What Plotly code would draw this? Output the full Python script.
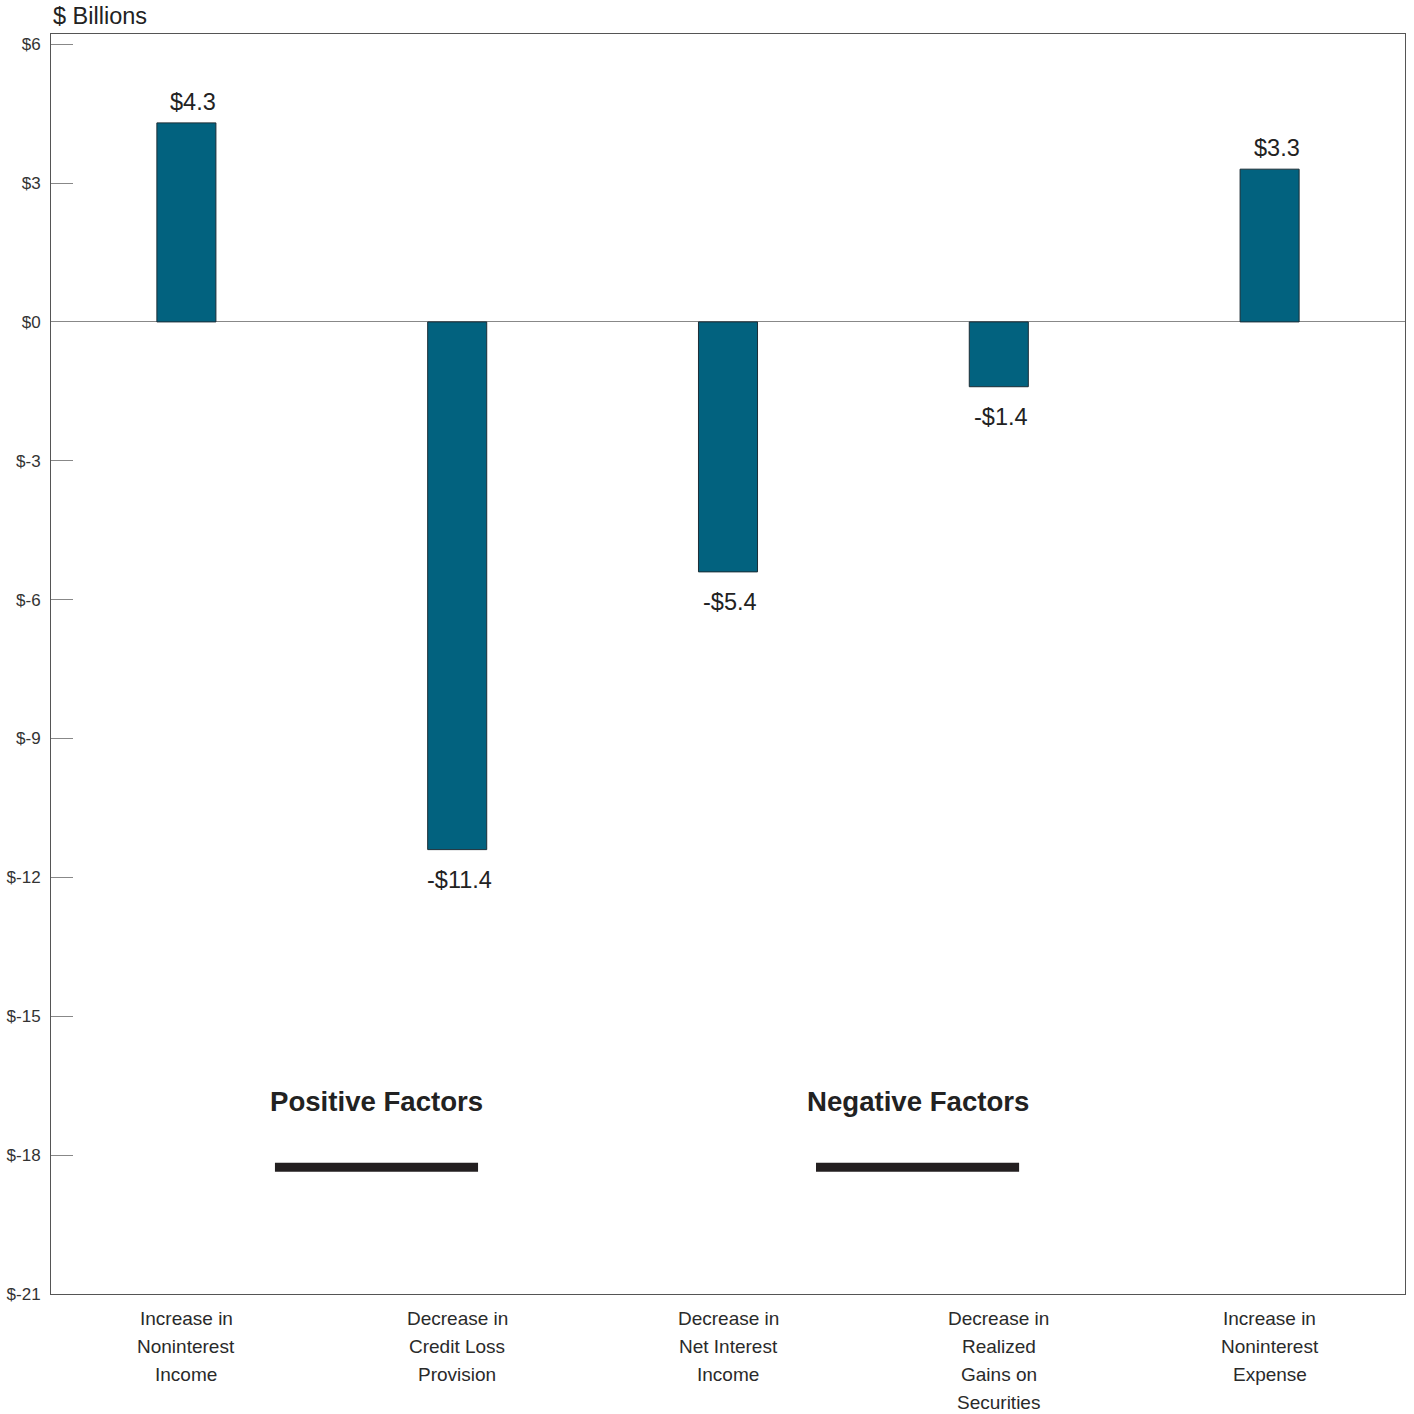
import plotly.graph_objects as go

# Contribution of each factor to the change in earnings ($ billions)
categories = [
    "Increase in<br>Noninterest<br>Income",
    "Decrease in<br>Credit Loss<br>Provision",
    "Decrease in<br>Net Interest<br>Income",
    "Decrease in<br>Realized<br>Gains on<br>Securities",
    "Increase in<br>Noninterest<br>Expense",
]
values = [4.3, -11.4, -5.4, -1.4, 3.3]
y_ticks = [6, 3, 0, -3, -6, -9, -12, -15, -18, -21]
group_labels = ["Positive Factors", "Negative Factors"]
group_spans = [(0.327, 1.077), (2.325, 3.075)]

FONT = "Liberation Sans, Arial, sans-serif"
BAR = "#02627f"
x_idx = list(range(len(categories)))


def money(v):
    return f"-${abs(v):.1f}" if v < 0 else f"${v:.1f}"


fig = go.Figure()
fig.add_trace(go.Bar(
    x=x_idx, y=values, width=0.218,
    marker=dict(color=BAR, line=dict(color="#1b2d36", width=1)),
    hoverinfo="skip",
))

annotations = []
# value labels
for i, v in enumerate(values):
    annotations.append(dict(
        x=i, y=v, xref="x", yref="y", text=money(v), showarrow=False,
        font=dict(family=FONT, size=23.5, color="#222"),
        yanchor="middle", yshift=21 if v > 0 else -30, xshift=7 if v > 0 else 2,
    ))
# category labels, one line at a time
for i, c in enumerate(categories):
    for j, line in enumerate(c.split("<br>")):
        annotations.append(dict(
            x=i, y=0, xref="x", yref="paper", text=line, showarrow=False,
            font=dict(family=FONT, size=19, color="#2a2a2a"),
            yanchor="middle", yshift=-(24 + 28 * j),
        ))
# group headings and their rules
shapes = []
for label, (a, b) in zip(group_labels, group_spans):
    annotations.append(dict(
        x=(a + b) / 2, y=-16.84, xref="x", yref="y", text=f"<b>{label}</b>",
        showarrow=False, font=dict(family=FONT, size=27.6, color="#222"),
        yanchor="middle",
    ))
    shapes.append(dict(
        type="line", xref="x", yref="y", x0=a, x1=b, y0=-18.26, y1=-18.26,
        line=dict(color="#231f20", width=9),
    ))
annotations.append(dict(
    x=0, y=1, xref="paper", yref="paper", text="$ Billions", showarrow=False,
    font=dict(family=FONT, size=23.5, color="#222"),
    xanchor="left", yanchor="bottom", yshift=3,
))

fig.update_layout(
    width=1414, height=1414,
    margin=dict(l=51, r=9, t=34, b=120),
    paper_bgcolor="white", plot_bgcolor="white",
    showlegend=False,
    annotations=annotations, shapes=shapes,
    xaxis=dict(
        range=[-0.5, 4.5], showticklabels=False, ticks="", showgrid=False,
        automargin=False,
        zeroline=False, showline=True, mirror=True, linecolor="#555", linewidth=1,
    ),
    yaxis=dict(
        range=[-21, 6.22], tickvals=y_ticks, ticktext=[f"${v}" for v in y_ticks],
        ticks="inside", ticklen=22, tickcolor="#888", tickwidth=1,
        tickfont=dict(family=FONT, size=17, color="#333"),
        ticklabelstandoff=6, automargin=False,
        showgrid=False, zeroline=True, zerolinecolor="#888", zerolinewidth=1,
        showline=True, mirror=True, linecolor="#555", linewidth=1,
    ),
)

fig.write_html("out.html")
